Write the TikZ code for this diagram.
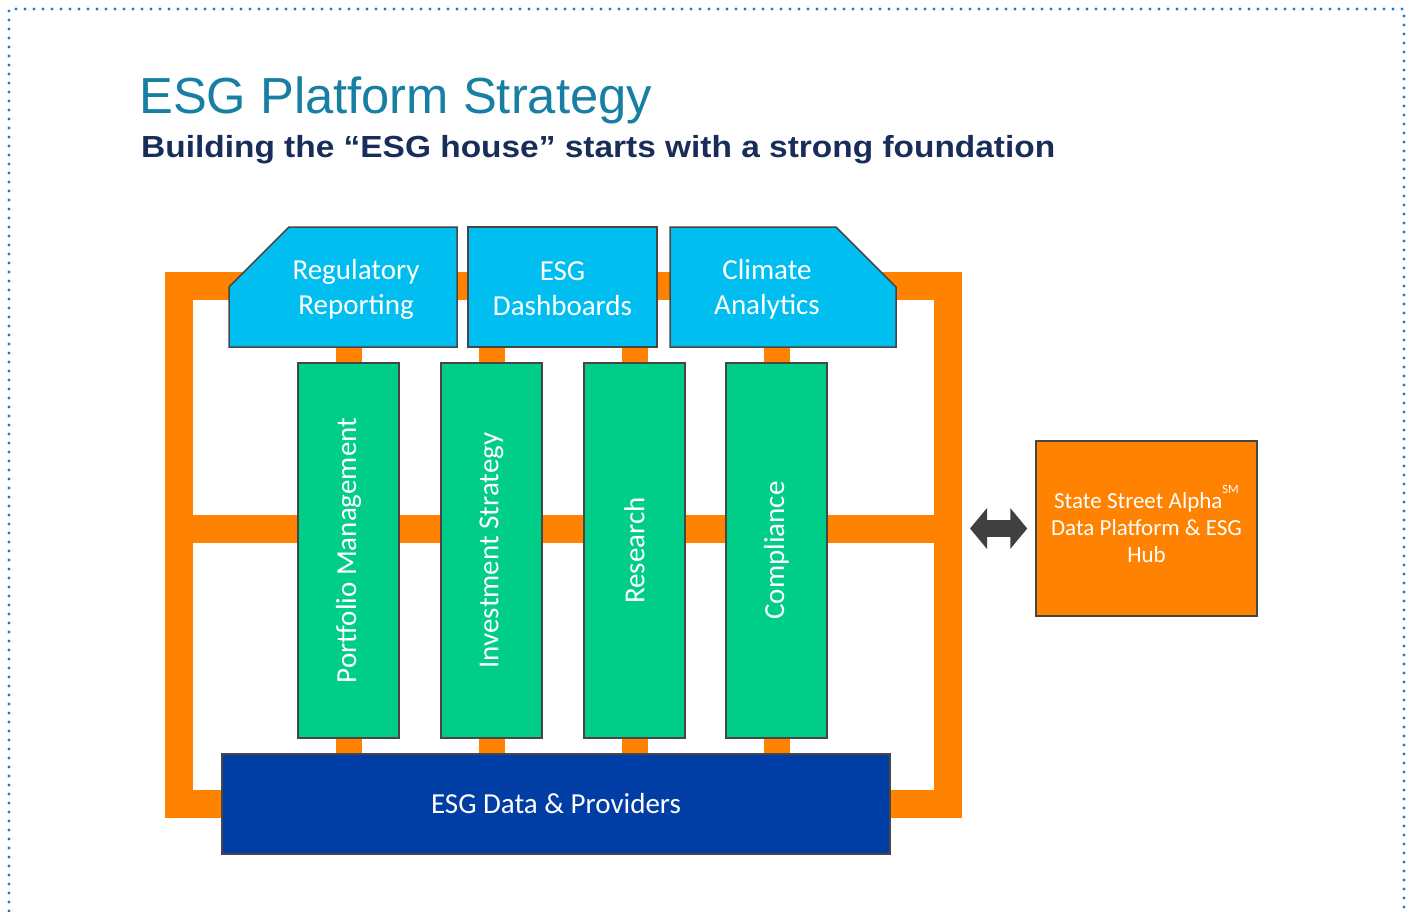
\documentclass[tikz,border=0pt]{standalone}
\usepackage{fontspec}
\setmainfont{Liberation Sans}
\newfontfamily\calfont{Carlito}
\usetikzlibrary{arrows.meta}
\definecolor{dotblue}{RGB}{31,120,200}
\definecolor{titleblue}{RGB}{23,127,163}
\definecolor{subnavy}{RGB}{25,45,90}
\definecolor{frameorange}{RGB}{255,130,0}
\definecolor{cyanfill}{RGB}{0,191,240}
\definecolor{greenfill}{RGB}{0,206,136}
\definecolor{bluefill}{RGB}{0,61,165}
\definecolor{edgegrey}{RGB}{70,70,70}
\definecolor{arrowgrey}{RGB}{64,64,64}
\pgfdeclarelayer{bg}
\pgfsetlayers{bg,main}
\begin{document}
\begin{tikzpicture}[x=1pt,y=-1pt,
  dotborder/.style={draw=dotblue,line width=3.3pt,line cap=round,dash pattern=on 0pt off 9pt},
  frameline/.style={draw=frameorange,line width=28pt},
  stubline/.style={draw=frameorange,line width=26pt},
  boxarea/.style={inner sep=0pt,outer sep=0pt,draw=none},
  cyanshape/.style={fill=cyanfill,draw=edgegrey,line width=1.5pt,line join=miter},
  lbl/.style={inner sep=0pt,text=white,align=center,font=\calfont\fontsize{29}{35}\selectfont},
  column/.style={fill=greenfill,draw=edgegrey,line width=1.5pt,inner sep=0pt,minimum width=101pt,minimum height=375pt,text=white,font=\calfont\fontsize{29}{35}\selectfont},
  databox/.style={fill=bluefill,draw=edgegrey,line width=1.5pt,inner sep=0pt,minimum width=668pt,minimum height=100pt,text=white,font=\calfont\fontsize{29}{35}\selectfont},
  hubbox/.style={fill=frameorange,draw=edgegrey,line width=1.5pt,inner sep=0pt,minimum width=221pt,minimum height=175pt,text=white,align=center,font=\calfont\fontsize{23}{27}\selectfont},
  dblarrow/.style={draw=arrowgrey,line width=17pt,{Triangle[length=17pt,width=40pt]}-{Triangle[length=17pt,width=40pt]}}
]
\useasboundingbox (0,0) rectangle (1416,911);
\draw[dotborder] (9,920) -- (9,9) -- (1404,9) -- (1404,920);

\node[anchor=base west,inner sep=0pt,text=titleblue,font=\fontsize{50.7}{60}\selectfont] (title) at (139,113) {ESG Platform Strategy};
\node[anchor=base west,inner sep=0pt,text=subnavy,font=\bfseries\fontsize{30.5}{34}\selectfont] (subtitle) at (141,157) {\resizebox{914pt}{\height}{Building the “ESG house” starts with a strong foundation}};

% top boxes
\node[boxarea,minimum width=228pt,minimum height=120pt] (reg) at (343,287) {};
\node[boxarea,minimum width=189pt,minimum height=120pt] (esg) at (562.5,287) {};
\node[boxarea,minimum width=226pt,minimum height=120pt] (clim) at (783,287) {};
\filldraw[cyanshape] (reg.south west) -- ([yshift=60pt]reg.south west) -- ([xshift=60pt]reg.north west) -- (reg.north east) -- (reg.south east) -- cycle;
\filldraw[cyanshape] (esg.south west) rectangle (esg.north east);
\filldraw[cyanshape] (clim.south west) -- (clim.north west) -- ([xshift=-60pt]clim.north east) -- ([yshift=60pt]clim.south east) -- (clim.south east) -- cycle;
\node[lbl] (regtxt) at (356,289) {Regulatory\\Reporting};
\node[lbl] (esgtxt) at (562.5,289) {ESG\\Dashboards};
\node[lbl] (climtxt) at (767,289) {Climate\\Analytics};

% columns
\node[column] (pm) at (348.5,550.5) {\rotatebox{90}{Portfolio Management}};
\node[column] (is) at (491.5,550.5) {\rotatebox{90}{Investment Strategy}};
\node[column] (rs) at (634.5,550.5) {\rotatebox{90}{Research}};
\node[column] (cp) at (776.5,550.5) {\rotatebox{90}{Compliance}};

% foundation
\node[databox] (data) at (556,804) {ESG Data \& Providers};

% hub
\node[hubbox] (hub) at (1146.5,528.5) {};
\node[inner sep=0pt,text=white,align=center,font=\calfont\fontsize{23}{27}\selectfont] (hubtxt) at (1146.5,524.5) {State Street Alpha\raisebox{15pt}{\fontsize{12.5}{12.5}\selectfont SM}\\Data Platform \& ESG\\Hub};

\begin{pgfonlayer}{bg}
\draw[frameline] (178.5,286) rectangle (947.5,804);
\draw[frameline] (178.5,529) -- (947.5,529);
\draw[stubline] (reg.south -| pm.north) -- (pm.north);
\draw[stubline] (esg.south -| is.north) -- (is.north);
\draw[stubline] (esg.south -| rs.north) -- (rs.north);
\draw[stubline] (clim.south -| cp.north) -- (cp.north);
\draw[stubline] (pm.south) -- (pm.south |- data.north);
\draw[stubline] (is.south) -- (is.south |- data.north);
\draw[stubline] (rs.south) -- (rs.south |- data.north);
\draw[stubline] (cp.south) -- (cp.south |- data.north);
\end{pgfonlayer}

\coordinate (frameE) at (961,528.5);
\draw[dblarrow,shorten <=9pt,shorten >=8pt] (frameE) -- (hub.west);
\end{tikzpicture}
\end{document}
